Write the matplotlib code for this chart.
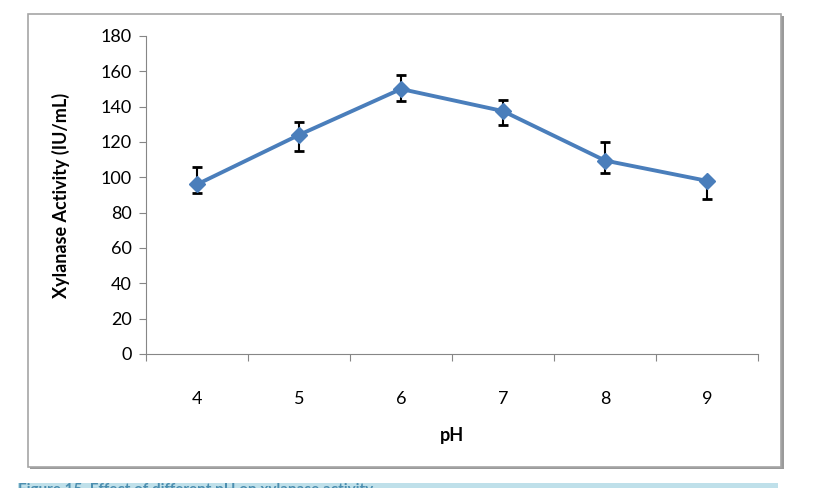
import numpy as np
import matplotlib
matplotlib.use("Agg")
import matplotlib.pyplot as plt
from matplotlib.patches import Rectangle

ph = [4, 5, 6, 7, 8, 9]
activity = [96, 124, 150, 137.5, 109.5, 98]
err_low = [5, 9, 7, 8, 7, 10.5]
err_high = [10, 7.5, 8, 6.5, 10.5, 0]
yticks = [0, 20, 40, 60, 80, 100, 120, 140, 160, 180]

plt.rcParams['font.family'] = ['Lato', 'DejaVu Sans']

fig = plt.figure(figsize=(8.21, 4.88), dpi=100)

# outer frame with shadow, and caption strip
fig.patches.append(Rectangle((30 / 821, 1 - 469 / 488), 754 / 821, 453 / 488,
                             transform=fig.transFigure, facecolor="#9a9a9a",
                             edgecolor="none", zorder=0))
fig.patches.append(Rectangle((28 / 821, 1 - 467 / 488), 753 / 821, 453 / 488,
                             transform=fig.transFigure, facecolor="white",
                             edgecolor="#a6a6a6", linewidth=1.2, zorder=1))
fig.patches.append(Rectangle((18 / 821, 0), 760 / 821, 5 / 488,
                             transform=fig.transFigure, facecolor="#bfe0ea",
                             edgecolor="none", zorder=1))

ax = fig.add_axes([146 / 821, 1 - 354 / 488, 612 / 821, 318 / 488])
ax.set_facecolor("none")
ax.set_zorder(2)

x = np.arange(len(ph))
ax.errorbar(x, activity, yerr=[err_low, err_high], fmt="none", ecolor="black",
            elinewidth=1.5, capsize=3.5, capthick=2, zorder=2)
ax.plot(x, activity, color="#4a7ebb", linewidth=2.8, marker="D",
        markersize=8.5, zorder=3)

ax.set_xlim(-0.5, len(ph) - 0.5)
ax.set_ylim(0, 180)
ax.set_yticks(yticks)
ax.set_xticks(np.arange(len(ph) + 1) - 0.5)
ax.set_xticklabels([])
ax.set_xticks(x, minor=True)
ax.set_xticklabels([str(p) for p in ph], minor=True)
ax.tick_params(axis="x", which="minor", length=0, pad=27, labelsize=13)
ax.tick_params(axis="x", which="major", length=5, color="#868686", direction="out")
ax.tick_params(axis="y", length=5, color="#868686", labelsize=13, pad=5)

for s in ["top", "right"]:
    ax.spines[s].set_visible(False)
for s in ["left", "bottom"]:
    ax.spines[s].set_color("#868686")

ax.set_xlabel("pH", fontsize=13, fontweight="bold", labelpad=14)
ax.set_ylabel("Xylanase Activity (IU/mL)", fontsize=13, fontweight="bold", labelpad=22)

fig.text(18 / 821, -9 / 488, "Figure 15. Effect of different pH on xylanase activity.",
         fontsize=11, fontweight="bold", color="#4d8fb0", va="bottom", ha="left")

fig.savefig("out.png", dpi=100)
